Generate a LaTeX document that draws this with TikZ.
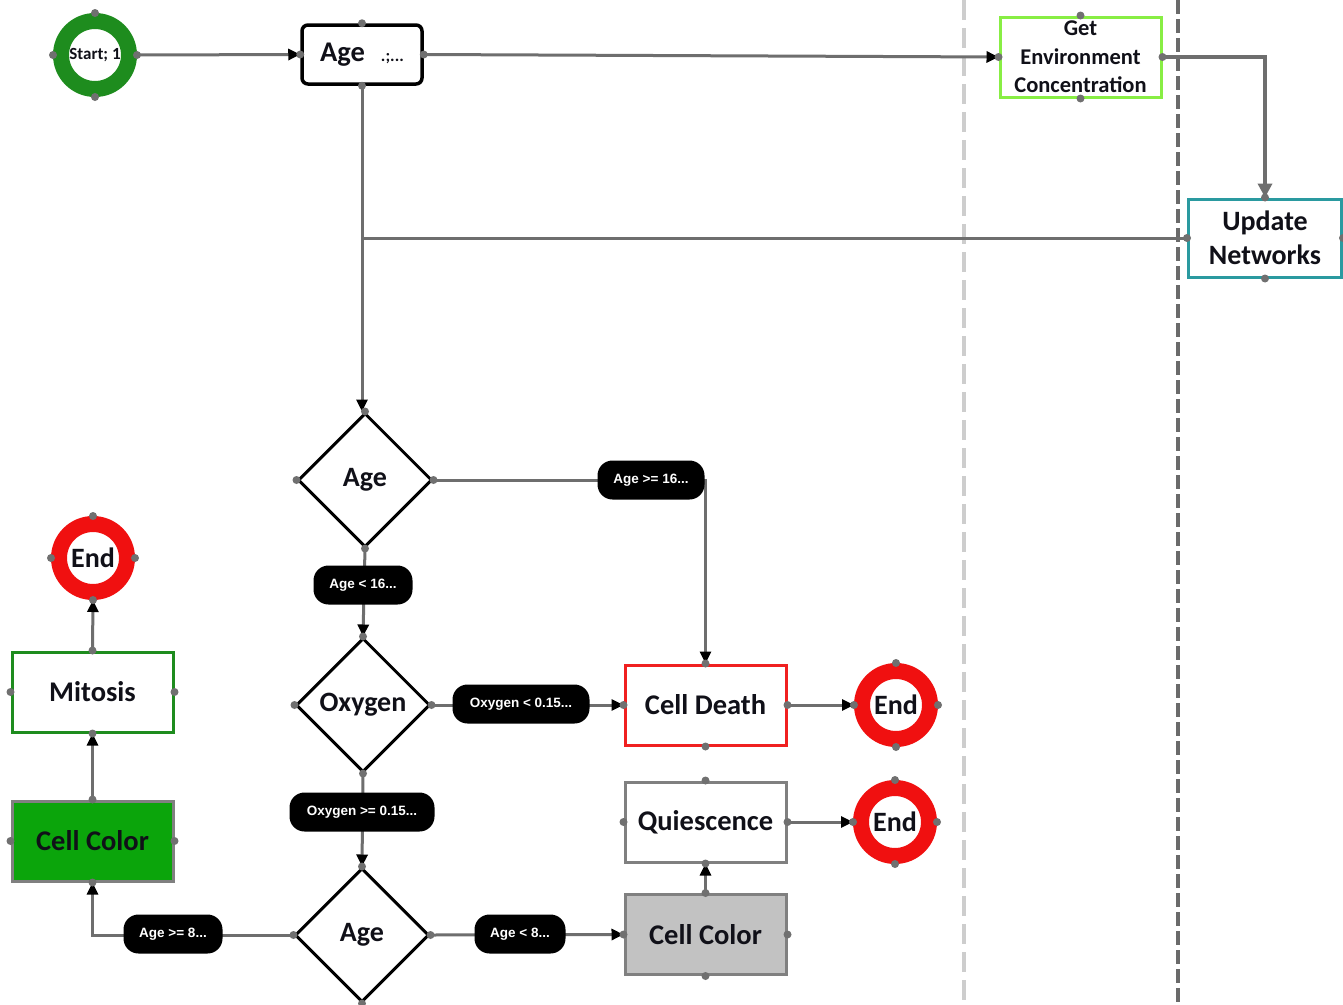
\documentclass[tikz,border=0pt]{standalone}
\usepackage{fontspec}
\setmainfont{Carlito}
\newfontfamily\pillfont{Liberation Sans}
\usetikzlibrary{arrows.meta,shapes.geometric,calc}
\definecolor{linec}{HTML}{6E6E6E}
\definecolor{dotc}{HTML}{707070}
\definecolor{startg}{HTML}{1E8C1E}
\definecolor{endr}{HTML}{F01010}
\definecolor{mitg}{HTML}{1E8C1E}
\definecolor{fillg}{HTML}{0BA50B}
\definecolor{envg}{HTML}{88EE44}
\definecolor{updt}{HTML}{2A9AA0}
\definecolor{cdred}{HTML}{F02020}
\definecolor{boxgray}{HTML}{808080}
\definecolor{fillgray}{HTML}{C2C2C2}
\definecolor{lightdash}{HTML}{CDCDCD}
\definecolor{darkdash}{HTML}{6A6A6A}
\definecolor{txt}{HTML}{101018}
\begin{document}
\begin{tikzpicture}[x=1pt,y=-1pt,
  conn/.style={draw=linec, line width=3pt},
  arr/.style={conn, -{Triangle[length=12pt,width=11pt,color=black]}},
  box/.style={draw, line width=3pt, minimum width=161pt, minimum height=80pt, inner sep=2pt,
    font=\bfseries\fontsize{28.5}{30}\selectfont, text=txt, align=center, fill=white},
  dia/.style={diamond, draw=black, line width=3pt, minimum width=134pt, minimum height=134pt,
    inner sep=0pt, fill=white, text=txt, font=\bfseries\fontsize{28}{30}\selectfont},
  ring/.style={circle, line width=16pt, minimum size=68pt, inner sep=0pt, fill=white, text=txt,
    font=\bfseries\fontsize{28}{30}\selectfont},
  pill/.style={fill=black, text=white, rounded corners=15pt, minimum height=39pt, inner sep=2pt,
    font=\pillfont\bfseries\fontsize{13.5}{14}\selectfont},
  dotmark/.style={fill=dotc}
]
\useasboundingbox (0,0) rectangle (1343,1004);
\fill[white] (0,0) rectangle (1343,1004);

% swimlane dashed separators
\draw[lightdash, line width=4pt, dash pattern=on 20pt off 8pt] (964,0) -- (964,1004);
\draw[darkdash, line width=4pt, dash pattern=on 14pt off 5pt] (1178,0) -- (1178,1004);

% nodes
\node[ring, draw=startg, font=\bfseries\fontsize{17}{20}\selectfont] (start) at (95,55) {Start; 1};
\node[box, draw=black, line width=3.5pt, rounded corners=6pt, minimum width=120pt, minimum height=59pt]
  (age) at (362,54.5) {Age\hspace{16pt}{\fontsize{17}{17}\selectfont .;...}};
\node[box, draw=envg, inner sep=0pt, font=\bfseries\fontsize{22.5}{28.5}\selectfont] (env) at (1080.5,57)
  {Get\\Environment\\Concentration};
\node[box, draw=updt, minimum width=153pt, minimum height=78pt, font=\bfseries\fontsize{28}{34}\selectfont]
  (upd) at (1265,238) {Update\\Networks};

\node[dia] (d1) at (365,480) {Age};
\node[dia] (d2) at (363,705) {Oxygen};
\node[dia] (d3) at (362,935) {Age};

\node[box, draw=cdred] (cd) at (705.5,705) {Cell Death};
\node[box, draw=boxgray] (qui) at (705.5,822) {Quiescence};
\node[box, draw=boxgray, fill=fillgray] (ccgray) at (705.5,934.5) {Cell Color};
\node[box, draw=mitg] (mit) at (92.5,692) {Mitosis};
\node[box, draw=boxgray, fill=fillg] (ccgreen) at (92.5,841) {Cell Color};

\node[ring, draw=endr] (end1) at (93,558) {End};
\node[ring, draw=endr] (end2) at (896,705) {End};
\node[ring, draw=endr] (end3) at (895,822) {End};

% connectors
\draw[arr] (start.east) -- (age.west);
\draw[arr] (age.east) -- (env.west);
\draw[conn, line width=3.5pt, -{Triangle[length=14pt,width=14pt,color=linec]}] (env.east) -| (upd.north);
\draw[arr] (age.south) -- (age.south |- d1.north);
\coordinate (join) at (age.south |- upd.west);
\draw[conn] (upd.west) -- (join);
\draw[arr] (d1.east) -| (cd.north);
\draw[arr] (d1.south) -- (d2.north);
\draw[arr] (d2.east) -- (cd.west);
\draw[arr] (cd.east) -- (end2.west);
\draw[arr] (d2.south) -- (d3.north);
\draw[arr] (d3.east) -- (ccgray.west);
\draw[arr] (ccgray.north) -- (qui.south);
\draw[arr] (qui.east) -- (end3.west);
\draw[arr] (d3.west) -| (ccgreen.south);
\draw[arr] (ccgreen.north) -- (mit.south);
\draw[arr] (mit.north) -- (end1.south);

% condition labels
\node[pill, minimum width=107pt] (p1) at (651,480) {Age >= 16...};
\node[pill, minimum width=99pt] (p2) at (363,585) {Age < 16...};
\node[pill, minimum width=137pt] (p3) at (521,704) {Oxygen < 0.15...};
\node[pill, minimum width=145pt] (p4) at (362,812) {Oxygen >= 0.15...};
\node[pill, minimum width=91pt] (p5) at (520,934) {Age < 8...};
\node[pill, minimum width=99pt] (p6) at (173,934) {Age >= 8...};

% connection point dots
\foreach \n in {start,age,env,upd,d1,d2,d3,cd,qui,ccgray,mit,ccgreen,end1,end2,end3}{
  \foreach \a in {north,south,east,west}{
    \fill[dotmark] (\n.\a) circle (4pt);
  }
}
\end{tikzpicture}
\end{document}
